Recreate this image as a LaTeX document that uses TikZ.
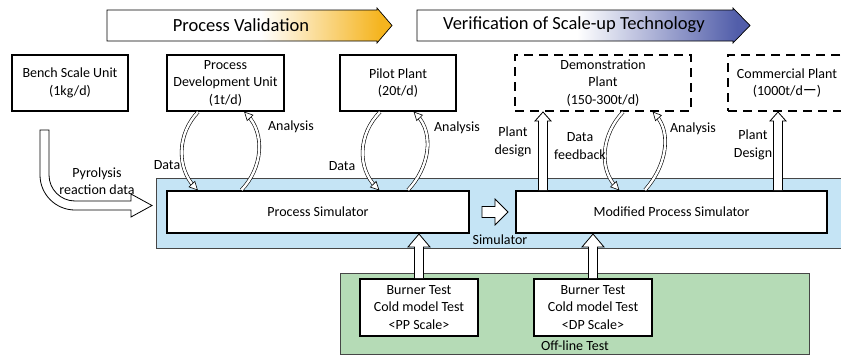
\documentclass[tikz,border=0pt]{standalone}
\usepackage{fontspec}
\setmainfont{Carlito}
\newfontfamily\cjk{Noto Sans CJK JP}
\usetikzlibrary{calc,decorations.markings}
\definecolor{simblue}{RGB}{197,228,245}
\definecolor{offgreen}{RGB}{181,219,182}
\definecolor{bannerorange}{RGB}{245,180,30}
\definecolor{bannerblue}{RGB}{82,94,170}
\definecolor{regionedge}{RGB}{70,70,70}
\pgfdeclarehorizontalshading{orangeshade}{100bp}{color(0bp)=(white); color(52bp)=(white); color(73bp)=(bannerorange); color(100bp)=(bannerorange)}
\pgfdeclarehorizontalshading{blueshade}{100bp}{color(0bp)=(white); color(49bp)=(white); color(73bp)=(bannerblue); color(100bp)=(bannerblue)}
\newcommand\diafont{\fontsize{14}{17.5}\selectfont}
\newcommand\bannerfont{\fontsize{18.5}{22}\selectfont}
\newcommand\hollowup[4]{\path[hollowarrow] let \p1=(#1), \p2=(#2) in
  ({\x1-4.5pt},\y1) -- ({\x1-4.5pt},{\y2-#4}) -- ({\x1-#3},{\y2-#4}) -- (\x1,\y2)
  -- ({\x1+#3},{\y2-#4}) -- ({\x1+4.5pt},{\y2-#4}) -- ({\x1+4.5pt},\y1);}
\tikzset{
  unitbox/.style={draw=black, line width=2pt, fill=white, inner sep=0pt, align=center, font=\diafont},
  planbox/.style={unitbox, dash pattern=on 9pt off 6pt},
  region/.style={draw=regionedge, line width=0.8pt, inner sep=0pt, anchor=north west},
  lbl/.style={align=center, font=\diafont, inner sep=0pt},
  hollowarrow/.style={fill=white, draw=black, line width=0.8pt},
  looparrow/.style={draw=black, line width=0.6pt, double=white, double distance=2.4pt, shorten >=4pt,
    postaction={decorate, decoration={markings, mark=at position 0.999 with
      {\draw[line width=0.6pt, fill=white, shorten >=0pt] (0pt,0pt) -- (-8pt,4pt) -- (-8pt,-4pt) -- cycle;}}}},
  banner/.style={draw=black, line width=0.7pt}
}
\begin{document}
\begin{tikzpicture}[x=1pt, y=-1pt]
\useasboundingbox (0,0) rectangle (841,356);
\clip (0,0) rectangle (841,356);

% banners
\shadedraw[banner, shading=orangeshade] (107,10) -- (377,10) -- (377,8) -- (392,25.5) -- (377,43) -- (377,41) -- (107,41) -- cycle;
\node[lbl, font=\bannerfont] (pv) at (241,25) {Process Validation};
\shadedraw[banner, shading=blueshade] (417,10) -- (733,10) -- (733,8) -- (750,25.5) -- (733,43) -- (733,41) -- (417,41) -- cycle;
\node[lbl, font=\bannerfont] (vs) at (574,25) {Verification of Scale-up Technology};

% regions
\node[region, fill=simblue, minimum width=704pt, minimum height=70pt] (simreg) at (156,178) {};
\node[region, fill=offgreen, minimum width=469pt, minimum height=81pt] (offreg) at (340,273) {};
\node[lbl] (simlbl) at (500,240) {Simulator};
\node[lbl] (offlbl) at (575,346) {Off-line Test};

% coordinates for arrow positions
\coordinate (pdx) at (543,0);
\coordinate (cdx) at (778,0);

% top boxes
\node[unitbox, minimum width=116pt, minimum height=56pt] (bench) at (70,83) {Bench Scale Unit\\(1kg/d)};
\node[unitbox, minimum width=117pt, minimum height=56pt] (pdu) at (225.5,83) {Process\\Development Unit\\(1t/d)};
\node[unitbox, minimum width=116pt, minimum height=56pt] (pilot) at (398,83) {Pilot Plant\\(20t/d)};
\node[planbox, minimum width=176pt, minimum height=56pt] (demo) at (603,83) {Demonstration\\Plant\\(150-300t/d)};
\node[planbox, minimum width=118pt, minimum height=56pt] (comm) at (787,83) {Commercial Plant\\(1000t/d{\cjk ー})};

% simulators
\node[unitbox, minimum width=302pt, minimum height=42pt] (psim) at (318,212) {Process Simulator};
\node[unitbox, minimum width=311pt, minimum height=42pt] (msim) at (671.5,212) {Modified Process Simulator};

% offline boxes
\node[unitbox, minimum width=118pt, minimum height=57pt] (pp) at (419,307.5) {Burner Test\\Cold model Test\\<PP Scale>};
\node[unitbox, minimum width=118pt, minimum height=57pt] (dp) at (593,307.5) {Burner Test\\Cold model Test\\<DP Scale>};

% hollow arrows
\hollowup{pp.north}{pp.north |- psim.south}{11pt}{13pt}
\hollowup{dp.north}{dp.north |- msim.south}{11pt}{13pt}
\hollowup{pdx |- msim.north}{pdx |- demo.south}{8pt}{9pt}
\hollowup{cdx |- msim.north}{cdx |- comm.south}{8pt}{9pt}
\path[hollowarrow] let \p1=($(psim.east)+(12,0)$), \p2=($(msim.west)+(-7,0)$) in
  (\x1,{\y1+5.5pt}) -- ({\x2-13pt},{\y1+5.5pt}) -- ({\x2-13pt},{\y1+13pt}) -- (\x2,\y1)
  -- ({\x2-13pt},{\y1-13pt}) -- ({\x2-13pt},{\y1-5.5pt}) -- (\x1,{\y1-5.5pt}) -- cycle;

% bench curved arrow
\path[hollowarrow] (40,130) -- (40,175) arc[start angle=180, end angle=270, radius=35pt]
  -- (131,210) -- (131,217) -- (152,205.5) -- (131,194) -- (131,201) -- (75,201)
  arc[start angle=270, end angle=180, radius=26pt] -- (49,130) -- cycle;

% loops
\draw[looparrow] ($(pdu.south)+(-27.5,0)$) .. controls +(-21,22) and +(-21,-22) .. ($(pdu.south |- psim.north)+(-28,0)$);
\draw[looparrow] ($(pdu.south |- psim.north)+(16,0)$) .. controls +(21,-22) and +(21,22) .. ($(pdu.south)+(19,0)$);
\draw[looparrow] ($(pilot.south)+(-18,0)$) .. controls +(-22,22) and +(-22,-22) .. ($(pilot.south |- psim.north)+(-19,0)$);
\draw[looparrow] ($(pilot.south |- psim.north)+(10,0)$) .. controls +(21,-22) and +(21,22) .. ($(pilot.south)+(16,0)$);
\draw[looparrow] ($(demo.south)+(20,0)$) .. controls +(-21,22) and +(-21,-22) .. ($(demo.south |- msim.north)+(16,0)$);
\draw[looparrow] ($(demo.south |- msim.north)+(42,0)$) .. controls +(20,-22) and +(20,22) .. ($(demo.south)+(50,0)$);

% labels
\node[lbl] (an1) at (291,127) {Analysis};
\node[lbl] (an2) at (457,128) {Analysis};
\node[lbl] (an3) at (693,129) {Analysis};
\node[lbl] (da1) at (167,165) {Data};
\node[lbl] (da2) at (342,166) {Data};
\node[lbl] (pd1) at (513,142) {Plant\\design};
\node[lbl] (dfb) at (580,146) {Data\\feedback};
\node[lbl] (pd2) at (753,145) {Plant\\Design};
\node[lbl] (pyr) at (97,181) {Pyrolysis\\reaction data};
\end{tikzpicture}
\end{document}
